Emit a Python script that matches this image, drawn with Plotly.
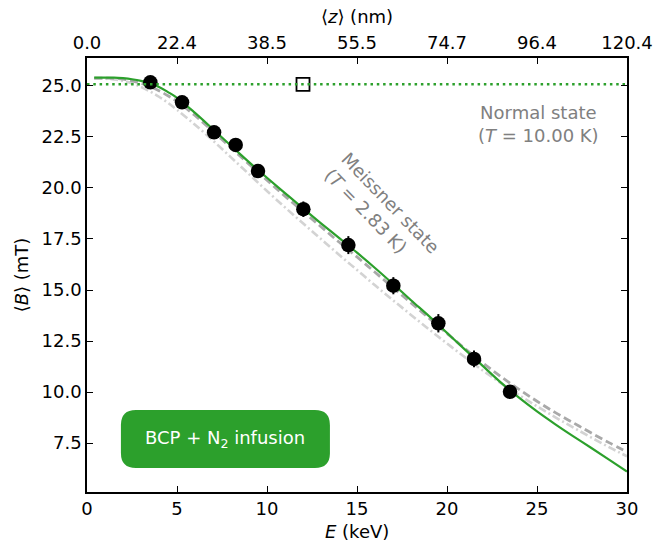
import plotly.graph_objects as go

# Measured mean field vs implantation energy (Meissner state, T = 2.83 K)
energy_keV = [3.52, 5.28, 7.06, 8.26, 9.5, 12.02, 14.52, 17.02, 19.52, 21.5, 23.5]
field_mT = [25.18, 24.2, 22.73, 22.11, 20.83, 18.96, 17.2, 15.21, 13.37, 11.62, 10.01]
field_err = [0.15, 0.2, 0.2, 0.2, 0.25, 0.38, 0.44, 0.42, 0.45, 0.41, 0.3]

# Normal-state reference point (T = 10.00 K)
normal_E = [12.0]
normal_B = [25.08]

# Model curves sampled in energy
curve_E = [0.4, 1, 1.5, 2, 2.5, 3, 3.5, 4, 4.5, 5, 6, 7, 8, 9, 10, 11, 12, 13, 14,
           15, 16, 17, 18, 19, 20, 21, 22, 23, 24, 25, 26, 27, 28, 29, 30]
fit_B = [25.41, 25.41, 25.41, 25.38, 25.33, 25.25, 25.13, 24.95, 24.7, 24.42, 23.68,
         22.88, 22.07, 21.27, 20.5, 19.75, 19.0, 18.27, 17.55, 16.83, 16.08, 15.3,
         14.5, 13.72, 12.9, 12.08, 11.27, 10.46, 9.72, 9.05, 8.43, 7.84, 7.27, 6.69, 6.1]
model_a_B = [25.38, 25.38, 25.37, 25.33, 25.25, 25.13, 24.97, 24.77, 24.52, 24.24,
             23.55, 22.77, 21.97, 21.17, 20.38, 19.6, 18.85, 18.1, 17.35, 16.62,
             15.87, 15.12, 14.37, 13.62, 12.87, 12.13, 11.42, 10.75, 10.13, 9.55,
             9.0, 8.5, 8.0, 7.52, 7.07]
model_b_B = [25.35, 25.35, 25.32, 25.25, 25.12, 24.95, 24.73, 24.47, 24.17, 23.83,
             23.1, 22.32, 21.5, 20.68, 19.85, 19.05, 18.27, 17.5, 16.73, 15.98,
             15.23, 14.5, 13.78, 13.07, 12.38, 11.7, 11.05, 10.43, 9.85, 9.3, 8.77,
             8.27, 7.78, 7.3, 6.85]

# Energy ticks and corresponding mean stopping depths
energy_ticks = [0, 5, 10, 15, 20, 25, 30]
depth_labels = ["0.0", "22.4", "38.5", "55.5", "74.7", "96.4", "120.4"]
field_ticks = [7.5, 10.0, 12.5, 15.0, 17.5, 20.0, 22.5, 25.0]

GREEN = "#2ca02c"
FONT = "DejaVu Sans"

fig = go.Figure()

fig.add_trace(go.Scatter(
    x=curve_E, y=model_b_B, mode="lines", line_shape="spline",
    line=dict(color="#d3d3d3", width=2.6, dash="8px,3px,2px,3px"),
    hoverinfo="skip", showlegend=False))
fig.add_trace(go.Scatter(
    x=curve_E, y=model_a_B, mode="lines", line_shape="spline",
    line=dict(color="#a9a9a9", width=2.8, dash="8px,4px"),
    hoverinfo="skip", showlegend=False))
fig.add_trace(go.Scatter(
    x=curve_E, y=fit_B, mode="lines", line_shape="spline",
    line=dict(color=GREEN, width=2.2),
    hoverinfo="skip", showlegend=False))

# Normal-state level across the full energy range (drawn on the top axis)
fig.add_trace(go.Scatter(
    x=[energy_ticks[0], energy_ticks[-1]], y=[normal_B[0], normal_B[0]],
    mode="lines", xaxis="x2",
    line=dict(color=GREEN, width=2.5, dash="2.5px,3.8px"),
    hoverinfo="skip", showlegend=False))

fig.add_trace(go.Scatter(
    x=normal_E, y=normal_B, mode="markers",
    marker=dict(symbol="square", size=13, color="white",
                line=dict(color="black", width=1.8)),
    showlegend=False))

fig.add_trace(go.Scatter(
    x=energy_keV, y=field_mT, mode="markers",
    marker=dict(symbol="circle", size=14.5, color="black"),
    error_y=dict(type="data", array=field_err, visible=True,
                 color="black", thickness=2, width=0),
    showlegend=False))

axis_common = dict(
    showgrid=False, zeroline=False, showline=True, linecolor="black",
    linewidth=1.6, ticks="inside", ticklen=6, tickwidth=1.4, tickcolor="black",
    tickfont=dict(family=FONT, size=18, color="black"), automargin=False,
)

fig.update_layout(
    width=656, height=542,
    margin=dict(l=87, r=29, t=58, b=50),
    plot_bgcolor="white", paper_bgcolor="white",
    font=dict(family=FONT, size=18, color="black"),
    xaxis=dict(range=[0, 30], tickvals=energy_ticks, mirror=True, **axis_common),
    xaxis2=dict(
        range=[0, 30], overlaying="x", side="top", anchor="y",
        tickvals=energy_ticks, ticktext=depth_labels,
        title=dict(text="⟨<i>z</i>⟩ (nm)", font=dict(family=FONT, size=18),
                   standoff=4),
        **axis_common),
    yaxis=dict(
        range=[5.1, 26.37], tickvals=field_ticks, tickformat=".1f",
        title=dict(text="⟨<i>B</i>⟩ (mT)", font=dict(family=FONT, size=18),
                   standoff=8),
        mirror="ticks", **axis_common),
)

# Bottom axis title
fig.add_annotation(x=0.5, y=-0.092, xref="paper", yref="paper", showarrow=False,
                   text="<i>E</i> (keV)", yanchor="middle",
                   font=dict(family=FONT, size=18, color="black"))

# Rounded label box
w, h, r = 209, 58, 15
box_path = (
    f"M {-w/2 + r},{-h/2} L {w/2 - r},{-h/2} Q {w/2},{-h/2} {w/2},{-h/2 + r} "
    f"L {w/2},{h/2 - r} Q {w/2},{h/2} {w/2 - r},{h/2} "
    f"L {-w/2 + r},{h/2} Q {-w/2},{h/2} {-w/2},{h/2 - r} "
    f"L {-w/2},{-h/2 + r} Q {-w/2},{-h/2} {-w/2 + r},{-h/2} Z"
)
fig.add_shape(type="path", path=box_path, xref="x", yref="y",
              xsizemode="pixel", ysizemode="pixel", xanchor=7.69, yanchor=7.7,
              fillcolor=GREEN, line=dict(width=0), layer="above")

fig.add_annotation(x=7.69, y=7.7, xref="x", yref="y", showarrow=False,
                   text="BCP + N<sub>2</sub> infusion",
                   font=dict(family=FONT, size=18, color="white"))

fig.add_annotation(x=25.06, y=23.14, xref="x", yref="y", showarrow=False,
                   text="Normal state<br>(<i>T</i> = 10.00 K)", align="center",
                   font=dict(family=FONT, size=18, color="gray"))

fig.add_annotation(x=16.4, y=18.85, xref="x", yref="y", showarrow=False,
                   text="Meissner state<br>(<i>T</i> = 2.83 K)", align="left",
                   textangle=46,
                   font=dict(family=FONT, size=18, color="gray"))

fig.write_html("out.html")
